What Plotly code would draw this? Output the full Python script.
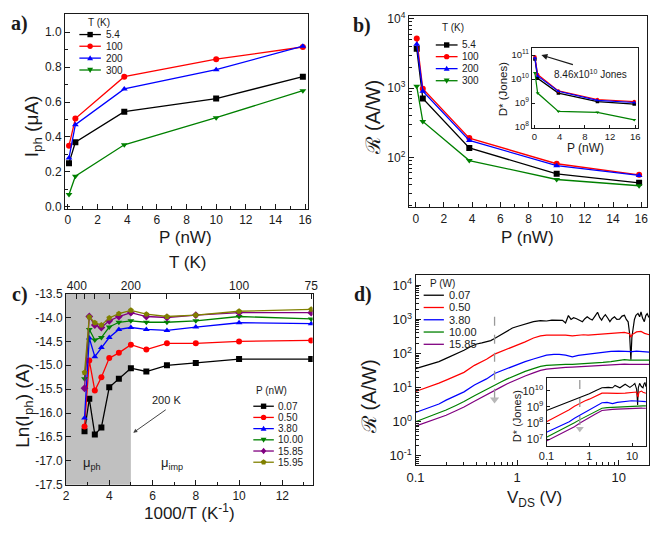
import math
import plotly.graph_objects as go

W, H = 660, 533
FONT = "Liberation Sans, Arial, sans-serif"
SERIF = "Liberation Serif, Times New Roman, serif"
INK = "#1a1a1a"

# ---------------- data: panels a & b ----------------
P_NW = [0.07, 0.5, 3.8, 10.0, 15.85]
T_LABELS = ["5.4", "100", "200", "300"]
IPH_5K = [0.25, 0.37, 0.545, 0.62, 0.745]
IPH_100K = [0.35, 0.505, 0.745, 0.845, 0.915]
IPH_200K = [0.28, 0.47, 0.675, 0.785, 0.92]
IPH_300K = [0.07, 0.175, 0.355, 0.51, 0.665]

R_5K = [3700, 710, 137, 58, 43]
R_100K = [5200, 980, 190, 81, 56]
R_200K = [4300, 900, 176, 76, 55]
R_300K = [1060, 330, 90, 48, 39]

D_5K = [6.9e10, 1.07e10, 2.6e9, 1.15e9, 9.0e8]
D_100K = [8.46e10, 1.55e10, 3.2e9, 1.4e9, 1.15e9]
D_200K = [7.6e10, 1.35e10, 3.1e9, 1.3e9, 1.05e9]
D_300K = [1.8e10, 2.6e9, 4.5e8, 4.1e8, 2.0e8]

# ---------------- data: panel c ----------------
T_C = [350, 325, 300, 275, 250, 225, 200, 175, 150, 125, 100, 75]
P_LABELS_C = ["0.07", "0.50", "3.80", "10.00", "15.85", "15.95"]
LN_007 = [-16.38, -15.70, -16.45, -16.30, -15.46, -15.28, -15.06, -15.13, -15.00, -14.95, -14.87, -14.87]
LN_050 = [-16.28, -14.90, -15.53, -15.25, -14.85, -14.74, -14.57, -14.67, -14.54, -14.54, -14.50, -14.48]
LN_380 = [-16.10, -14.43, -14.82, -14.63, -14.42, -14.25, -14.21, -14.25, -14.27, -14.20, -14.11, -14.13]
LN_1000 = [-15.28, -14.25, -14.47, -14.42, -14.20, -14.10, -14.07, -14.10, -14.10, -14.07, -13.98, -14.03]
LN_1585 = [-15.48, -13.98, -14.16, -14.21, -14.07, -13.98, -13.90, -13.98, -14.00, -13.95, -13.90, -13.90]
LN_1595 = [-15.15, -13.99, -14.11, -14.16, -14.01, -13.92, -13.85, -13.93, -13.98, -13.95, -13.87, -13.83]
T_AXIS_TICKS = [400, 350, 300, 250, 200, 150, 100, 75]
T_AXIS_TEXT = ["400", "", "", "", "200", "", "100", "75"]

# ---------------- data: panel d ----------------
P_LABELS_D = ["0.07", "0.50", "3.80", "10.00", "15.85"]
V_BLACK = [0.1, 0.13, 0.17, 0.2, 0.25, 0.3, 0.35, 0.4, 0.45, 0.5, 0.55, 0.6, 0.7, 0.8, 0.9, 1.0,
           1.2, 1.45, 1.7, 1.95, 2.2, 2.5, 2.8, 3.0, 3.2, 3.4, 3.6, 3.85, 4.1, 4.4, 4.65, 4.9,
           5.2, 5.5, 5.85, 6.2, 6.5, 6.8, 7.1, 7.4, 7.8, 8.2, 8.6, 9.1, 9.6, 10.2, 10.8, 11.4,
           11.9, 12.4, 12.8, 13.2, 13.5, 13.8, 14.3, 14.8, 15.5, 16.1, 16.6, 17.2, 17.9, 18.5,
           19.1, 19.7, 20.4]
R_BLACK = [36, 45, 58, 72, 95, 125, 160, 190, 205, 220, 240, 275, 360, 470, 560, 620,
           740, 860, 920, 900, 950, 930, 940, 790, 1300, 1000, 1120, 1050, 960, 860, 1050, 1200,
           1050, 960, 1250, 1620, 1150, 960, 1200, 1380, 1100, 860, 1050, 1200, 1000, 1020, 1250, 1320,
           1000, 850, 400, 66, 300, 550, 1000, 1320, 1500, 1200, 1660, 1100, 860, 1300,
           1480, 1200, 1070]
V_SMOOTH = [0.1, 0.13, 0.17, 0.2, 0.25, 0.3, 0.38, 0.45, 0.5, 0.6, 0.7, 0.8, 1.0, 1.2, 1.45,
            1.7, 1.95, 2.3, 2.6, 3.0, 3.5, 4.0, 4.5, 5.0, 6.0, 7.0, 8.4, 10.0, 11.4, 12.8,
            13.2, 13.6, 15.0, 16.6, 18.0, 20.0]
R_RED = [7.7, 10, 13.5, 16.6, 22, 28, 45, 58, 68, 96, 115, 140, 176, 220, 285,
         330, 345, 350, 340, 345, 330, 340, 355, 345, 357, 370, 385, 405, 415, 380,
         300, 360, 430, 445, 390, 355]
R_BLUE = [1.86, 2.5, 3.3, 4.3, 5.8, 7.5, 12, 15.5, 18, 26, 31, 37, 48, 58, 69,
          78, 90, 95, 95, 90, 80, 88, 92, 96, 100, 105, 115, 118, 114, 112,
          112, 113, 118, 115, 112, 110]
R_GREEN = [1.0, 1.35, 1.8, 2.2, 3.0, 3.9, 5.8, 7.6, 8.8, 12, 14.8, 18, 24, 30, 36,
           42, 45, 47, 48, 48, 48, 49, 50, 51, 53, 55, 58, 62, 66, 64,
           64, 64, 65, 64, 63, 64]
R_PURPLE = [0.74, 0.97, 1.3, 1.55, 2.1, 2.7, 4.0, 5.3, 6.2, 8.5, 10.5, 13, 17.5, 22, 27,
            32, 35, 37, 38, 39, 40, 41, 42, 43, 44, 45, 47, 48, 49, 48,
            48, 48, 49, 48, 48, 48]

VI_BLACK = [0.1, 0.15, 0.2, 0.34, 0.45, 0.62, 0.8, 1.0, 1.4, 1.98, 2.8, 3.5, 4.0, 5.2, 6.9,
            8.9, 10.5, 11.6, 12.8, 13.5, 14.0, 15.0, 16.5, 18.0, 19.0, 20.0, 21.0]
DI_BLACK = [6e8, 9e8, 1.3e9, 2.1e9, 2.8e9, 3.7e9, 5e9, 6.5e9, 1e10, 1.5e10, 1.6e10, 1.5e10, 2.1e10,
            1.5e10, 2.5e10, 1.6e10, 2.2e10, 2.8e10, 1.2e10, 1.3e9, 1.5e10, 2.8e10, 1.8e10, 1.5e10,
            2.6e10, 3.2e10, 1.8e10]
VI_SMOOTH = [0.1, 0.15, 0.2, 0.34, 0.45, 0.62, 0.8, 1.0, 1.4, 1.98, 2.6, 3.5, 4.5, 6.9, 9.8,
             12.7, 13.8, 14.5, 16.6, 18.0, 21.0]
DI_RED = [1.2e8, 2.1e8, 3.2e8, 6.6e8, 1.1e9, 1.8e9, 2.4e9, 3e9, 4.8e9, 7e9, 7e9, 6.7e9, 6.8e9,
          7e9, 7.5e9, 8.2e9, 4e9, 8e9, 9.4e9, 8e9, 7e9]
DI_BLUE = [2.7e7, 4.5e7, 6.5e7, 1.2e8, 2e8, 3.3e8, 4.7e8, 6.6e8, 1.1e9, 1.8e9, 1.9e9, 1.6e9, 1.9e9,
           2.2e9, 2.4e9, 2.3e9, 2.3e9, 2.3e9, 2.2e9, 2.2e9, 2.1e9]
DI_GREEN = [1.35e7, 2.3e7, 3.3e7, 6.8e7, 1.05e8, 1.7e8, 2.4e8, 3.3e8, 5.3e8, 8.3e8, 9e8, 9.4e8,
            9.8e8, 1.08e9, 1.15e9, 1.18e9, 1.2e9, 1.2e9, 1.18e9, 1.15e9, 1.15e9]
DI_PURPLE = [8e6, 1.4e7, 2e7, 3.9e7, 6e7, 1.05e8, 1.5e8, 2.1e8, 3.6e8, 6e8, 6.8e8, 7e8, 7.3e8,
             7.9e8, 8.3e8, 8.5e8, 8.5e8, 8.5e8, 8.4e8, 8.3e8, 8.3e8]

# annotation anchors (data units)
ARROW_D_MAIN = dict(v=0.6, top=1200, bottom=4.5)
ARROW_D_INSET = dict(v=0.6, top=4.5e10, bottom=4.5e7)

# ---------------- styles ----------------
COLORS4 = ["#000000", "#ff0000", "#0000ff", "#008000"]
SYMS4 = ["square", "circle", "triangle-up", "triangle-down"]
COLORS6 = COLORS4 + ["#800080", "#808000"]
SYMS6 = SYMS4 + ["diamond", "pentagon"]


def dx(p0, p1):
    return [p0 / W, p1 / W]


def dy(top, bot):
    return [1 - bot / H, 1 - top / H]


def axis(**kw):
    base = dict(showline=True, linecolor=INK, linewidth=1, mirror=True, ticks="inside",
                ticklen=5, tickwidth=1, tickcolor=INK, showgrid=False, zeroline=False,
                tickfont=dict(size=12, color=INK, family=FONT))
    base.update(kw)
    return base


def pow_text(e):
    return "10<sup>%d</sup>" % e


def log_minor(e0, e1):
    return [m * 10.0 ** e for e in range(e0, e1) for m in range(2, 10)]


fig = go.Figure()

# ---- panel a ----
for ys, c, s in zip([IPH_5K, IPH_100K, IPH_200K, IPH_300K], COLORS4, SYMS4):
    fig.add_trace(go.Scatter(x=P_NW, y=ys, mode="lines+markers", xaxis="x", yaxis="y",
                             line=dict(color=c, width=1.3), marker=dict(color=c, symbol=s, size=6),
                             showlegend=False))
# ---- panel b ----
for ys, c, s in zip([R_5K, R_100K, R_200K, R_300K], COLORS4, SYMS4):
    fig.add_trace(go.Scatter(x=P_NW, y=ys, mode="lines+markers", xaxis="x2", yaxis="y2",
                             line=dict(color=c, width=1.3), marker=dict(color=c, symbol=s, size=6),
                             showlegend=False))
for ys, c, s in zip([D_5K, D_100K, D_200K, D_300K], COLORS4, SYMS4):
    fig.add_trace(go.Scatter(x=P_NW, y=ys, mode="lines+markers", xaxis="x3", yaxis="y3",
                             line=dict(color=c, width=1.2), marker=dict(color=c, symbol=s, size=3.5),
                             showlegend=False))
# ---- panel c ----
X_C = [1000.0 / t for t in T_C]
for ys, c, s in zip([LN_007, LN_050, LN_380, LN_1000, LN_1585, LN_1595], COLORS6, SYMS6):
    fig.add_trace(go.Scatter(x=X_C, y=ys, mode="lines+markers", xaxis="x4", yaxis="y4",
                             line=dict(color=c, width=1.3), marker=dict(color=c, symbol=s, size=6),
                             showlegend=False))
fig.add_trace(go.Scatter(x=[1000.0 / t for t in T_AXIS_TICKS], y=[None] * len(T_AXIS_TICKS),
                         xaxis="x5", yaxis="y4", mode="markers", showlegend=False,
                         hoverinfo="skip"))
# ---- panel d ----
d_main = [(V_BLACK, R_BLACK), (V_SMOOTH, R_RED), (V_SMOOTH, R_BLUE), (V_SMOOTH, R_GREEN),
          (V_SMOOTH, R_PURPLE)]
for (xs, ys), c in zip(d_main, COLORS4 + ["#800080"]):
    fig.add_trace(go.Scatter(x=xs, y=ys, mode="lines", xaxis="x6", yaxis="y6",
                             line=dict(color=c, width=1.2), showlegend=False))
d_ins = [(VI_BLACK, DI_BLACK), (VI_SMOOTH, DI_RED), (VI_SMOOTH, DI_BLUE), (VI_SMOOTH, DI_GREEN),
         (VI_SMOOTH, DI_PURPLE)]
for (xs, ys), c in zip(d_ins, COLORS4 + ["#800080"]):
    fig.add_trace(go.Scatter(x=xs, y=ys, mode="lines", xaxis="x7", yaxis="y7",
                             line=dict(color=c, width=1.1), showlegend=False))
# dashed arrows
for arr, xa, ya, sz in [(ARROW_D_MAIN, "x6", "y6", 8), (ARROW_D_INSET, "x7", "y7", 7)]:
    fig.add_trace(go.Scatter(x=[arr["v"], arr["v"]], y=[arr["top"], arr["bottom"]],
                             mode="lines+markers", xaxis=xa, yaxis=ya, showlegend=False,
                             line=dict(color="#999999", width=1.3, dash="dash"),
                             marker=dict(symbol="triangle-down", size=[0, sz], color="#999999",
                                         line=dict(width=0))))

# ---------------- axes ----------------
layout_axes = dict(
    xaxis=axis(domain=dx(57.3, 306), anchor="y", range=[-0.2, 16.2], dtick=2,
               minor=dict(ticks="inside", ticklen=3, dtick=1, tickcolor=INK)),
    yaxis=axis(domain=dy(7, 207), anchor="x", range=[-0.01, 1.105], dtick=0.2, tickformat=".1f",
               minor=dict(ticks="inside", ticklen=3, dtick=0.1, tickcolor=INK)),
    xaxis2=axis(domain=dx(409, 652.7), anchor="y2", range=[-0.5, 16.4], dtick=2,
                minor=dict(ticks="inside", ticklen=3, dtick=1, tickcolor=INK)),
    yaxis2=axis(domain=dy(9.3, 205.7), anchor="x2", type="log", range=[1.28, 4.04],
                tickvals=[100, 1000, 10000], ticktext=[pow_text(e) for e in (2, 3, 4)],
                minor=dict(ticks="inside", ticklen=3, tickcolor=INK, tickvals=log_minor(1, 4))),
    xaxis3=axis(domain=dx(535, 643.3), anchor="y3", range=[-0.42, 16.4], dtick=4, ticklen=3,
                tickfont=dict(size=9.5, color=INK, family=FONT)),
    yaxis3=axis(domain=dy(41.7, 124), anchor="x3", type="log", range=[7.97, 11.31],
                tickvals=[1e8, 1e9, 1e10, 1e11], ticktext=[pow_text(e) for e in (8, 9, 10, 11)],
                ticklen=3, tickfont=dict(size=9.5, color=INK, family=FONT)),
    xaxis4=axis(domain=dx(58.3, 310.7), anchor="y4", range=[2, 13.4], dtick=2,
                minor=dict(ticks="inside", ticklen=3, dtick=1, tickcolor=INK)),
    yaxis4=axis(domain=dy(294.3, 490.7), anchor="x4", range=[-17.5, -13.5],
                tickvals=[-17.5 + 0.5 * i for i in range(9)],
                ticktext=["%.1f" % (-17.5 + 0.5 * i) for i in range(9)]),
    xaxis5=axis(overlaying="x4", anchor="y4", side="top", range=[2, 13.4], mirror=False,
                showline=False, tickvals=[1000.0 / t for t in T_AXIS_TICKS], ticktext=T_AXIS_TEXT),
    xaxis6=axis(domain=dx(416, 655), anchor="y6", type="log", range=[-1, 1.3],
                tickvals=[0.1, 1, 10], ticktext=["0.1", "1", "10"],
                tickfont=dict(size=13, color=INK, family=FONT),
                minor=dict(ticks="inside", ticklen=3, tickcolor=INK, tickvals=log_minor(-1, 2))),
    yaxis6=axis(domain=dy(275, 470.7), anchor="x6", type="log", range=[-1.28, 4.31],
                tickvals=[10.0 ** e for e in range(-1, 5)],
                ticktext=["10<sup>-1</sup>"] + [pow_text(e) for e in range(0, 5)],
                tickfont=dict(size=13, color=INK, family=FONT),
                minor=dict(ticks="inside", ticklen=3, tickcolor=INK, tickvals=log_minor(-2, 5))),
    xaxis7=axis(domain=dx(550, 652), anchor="y7", type="log", range=[-1, 1.33],
                tickvals=[0.1, 1, 10], ticktext=["0.1", "1", "10"],
                ticklen=3, tickfont=dict(size=11, color=INK, family=FONT)),
    yaxis7=axis(domain=dy(381, 451), anchor="x7", type="log", range=[6.58, 10.78],
                tickvals=[1e7, 1e8, 1e9, 1e10], ticktext=[pow_text(e) for e in (7, 8, 9, 10)],
                ticklen=3, tickfont=dict(size=11, color=INK, family=FONT)),
)

# ---------------- text annotations (pixel positions) ----------------
ann = []


def text(t, px, py, size, angle=0, family=FONT, xanchor="center"):
    ann.append(dict(text=t, x=px / W, y=1 - py / H, xref="paper", yref="paper", showarrow=False,
                    textangle=angle, xanchor=xanchor, yanchor="middle",
                    font=dict(size=size, family=family, color=INK)))


TITLES = [
    ("I<sub>ph</sub> (μA)", 24, 122, 19, -90),
    ("P (nW)", 181, 237, 17, 0),
    ("ℛ (A/W)", 372, 113, 20, -90),
    ("P (nW)", 531, 237, 17, 0),
    ("D* (Jones)", 505, 85, 11.5, -90),
    ("P (nW)", 590, 145, 12, 0),
    ("T (K)", 183, 262, 17, 0),
    ("Ln(I<sub>ph</sub>) (A)", 16, 410, 19, -90),
    ("1000/T (K<sup>-1</sup>)", 185, 519, 17, 0),
    ("ℛ (A/W)", 369, 400, 20, -90),
    ("V<sub>DS</sub> (V)", 538, 505, 17, 0),
    ("D* (Jones)", 520, 420, 11, -90),
]
for t, px, py, sz, ang in TITLES:
    text(t, px, py, sz, ang)

for t, px, py in [("a)", 11, 16.5), ("b)", 361, 18.5), ("c)", 11.5, 295), ("d)", 362.5, 295)]:
    text("<b>%s</b>" % t, px, py, 20, family=SERIF)

# data-anchored notes
ann.append(dict(text="8.46x10<sup>10</sup> Jones", x=8.9, y=math.log10(1.6e10), xref="x3", yref="y3",
                showarrow=False, font=dict(size=10, family=FONT, color=INK)))
ann.append(dict(text="", x=1.1, y=11.0, xref="x3", yref="y3", ax=33, ay=10, showarrow=True,
                arrowhead=2, arrowsize=1, arrowwidth=1.2, arrowcolor=INK))
ann.append(dict(text="200 K", x=6.63, y=-15.73, xref="x4", yref="y4", showarrow=False,
                font=dict(size=11, family=FONT, color=INK)))
ann.append(dict(text="", x=5.11, y=-16.41, xref="x4", yref="y4", ax=34, ay=-24, showarrow=True,
                arrowhead=2, arrowsize=0.8, arrowwidth=1, arrowcolor="#444444"))
ann.append(dict(text="μ<sub>ph</sub>", x=3.2, y=-17.05, xref="x4", yref="y4", showarrow=False,
                font=dict(size=13, family=FONT, color=INK)))
ann.append(dict(text="μ<sub>imp</sub>", x=6.9, y=-17.05, xref="x4", yref="y4", showarrow=False,
                font=dict(size=13, family=FONT, color=INK)))

# ---------------- legends (drawn as shapes + text) ----------------
shapes = [dict(type="rect", xref="x4", yref="y4 domain", x0=2, x1=5, y0=0, y1=1,
               fillcolor="#c0c0c0", line=dict(width=0), layer="below")]


def pp(px, py):
    return px / W, 1 - py / H


def path_from(pts):
    s = []
    for i, (px, py) in enumerate(pts):
        x, y = pp(px, py)
        s.append(("M" if i == 0 else "L") + "%.5f,%.5f" % (x, y))
    return " ".join(s) + " Z"


def marker_shape(sym, cx, cy, s, color):
    h = s / 2.0
    if sym == "square":
        x0, y0 = pp(cx - h, cy + h)
        x1, y1 = pp(cx + h, cy - h)
        return dict(type="rect", xref="paper", yref="paper", x0=x0, y0=y0, x1=x1, y1=y1,
                    fillcolor=color, line=dict(width=0))
    if sym == "circle":
        x0, y0 = pp(cx - h, cy + h)
        x1, y1 = pp(cx + h, cy - h)
        return dict(type="circle", xref="paper", yref="paper", x0=x0, y0=y0, x1=x1, y1=y1,
                    fillcolor=color, line=dict(width=0))
    if sym == "triangle-up":
        pts = [(cx, cy - h * 1.1), (cx + h * 1.1, cy + h * 0.8), (cx - h * 1.1, cy + h * 0.8)]
    elif sym == "triangle-down":
        pts = [(cx, cy + h * 1.1), (cx + h * 1.1, cy - h * 0.8), (cx - h * 1.1, cy - h * 0.8)]
    elif sym == "diamond":
        pts = [(cx, cy - h * 1.2), (cx + h, cy), (cx, cy + h * 1.2), (cx - h, cy)]
    else:
        pts = [(cx + h * 1.1 * math.cos(math.radians(-90 + 72 * k)),
                cy + h * 1.1 * math.sin(math.radians(-90 + 72 * k))) for k in range(5)]
    return dict(type="path", xref="paper", yref="paper", path=path_from(pts),
                fillcolor=color, line=dict(width=0))


LEGENDS = [
    dict(title="T (K)", title_xy=(92.5, 15.5), x0=72, x1=94, tx=97,
         ys=[28.3, 40.3, 52.5, 64.7], labels=T_LABELS, colors=COLORS4, syms=SYMS4),
    dict(title="T (K)", title_xy=(454, 20.7), x0=436.7, x1=459, tx=462,
         ys=[39, 51, 63.3, 75.7], labels=T_LABELS, colors=COLORS4, syms=SYMS4),
    dict(title="P (nW)", title_xy=(269, 394.3), x0=250, x1=271, tx=273,
         ys=[410, 421.5, 433, 444.5, 456, 467.5], labels=P_LABELS_C, colors=COLORS6, syms=SYMS6),
    dict(title="P (W)", title_xy=(444, 284), x0=424.3, x1=445, tx=448,
         ys=[296, 308.6, 321.2, 333.8, 346.4], labels=P_LABELS_D, colors=COLORS4 + ["#800080"],
         syms=[None] * 5),
]
for L in LEGENDS:
    text(L["title"], L["title_xy"][0], L["title_xy"][1], 10)
    for y, lab, c, s in zip(L["ys"], L["labels"], L["colors"], L["syms"]):
        x0, yy = pp(L["x0"], y)
        x1, _ = pp(L["x1"], y)
        shapes.append(dict(type="line", xref="paper", yref="paper", x0=x0, x1=x1, y0=yy, y1=yy,
                           line=dict(color=c, width=1.3)))
        if s:
            shapes.append(marker_shape(s, (L["x0"] + L["x1"]) / 2.0, y, 5.5, c))
        text(lab, L["tx"], y, 10 if s else 11, xanchor="left")

fig.update_layout(
    width=W, height=H, autosize=False,
    margin=dict(l=0, r=0, t=0, b=0),
    paper_bgcolor="white", plot_bgcolor="white",
    font=dict(family=FONT, color=INK),
    annotations=ann, shapes=shapes,
    **layout_axes,
)

fig.write_html("out.html",
               config={"displayModeBar": False, "staticPlot": True},
               post_script="document.body.style.margin='0';document.body.style.padding='0';"
                           "document.body.style.overflow='hidden';")
